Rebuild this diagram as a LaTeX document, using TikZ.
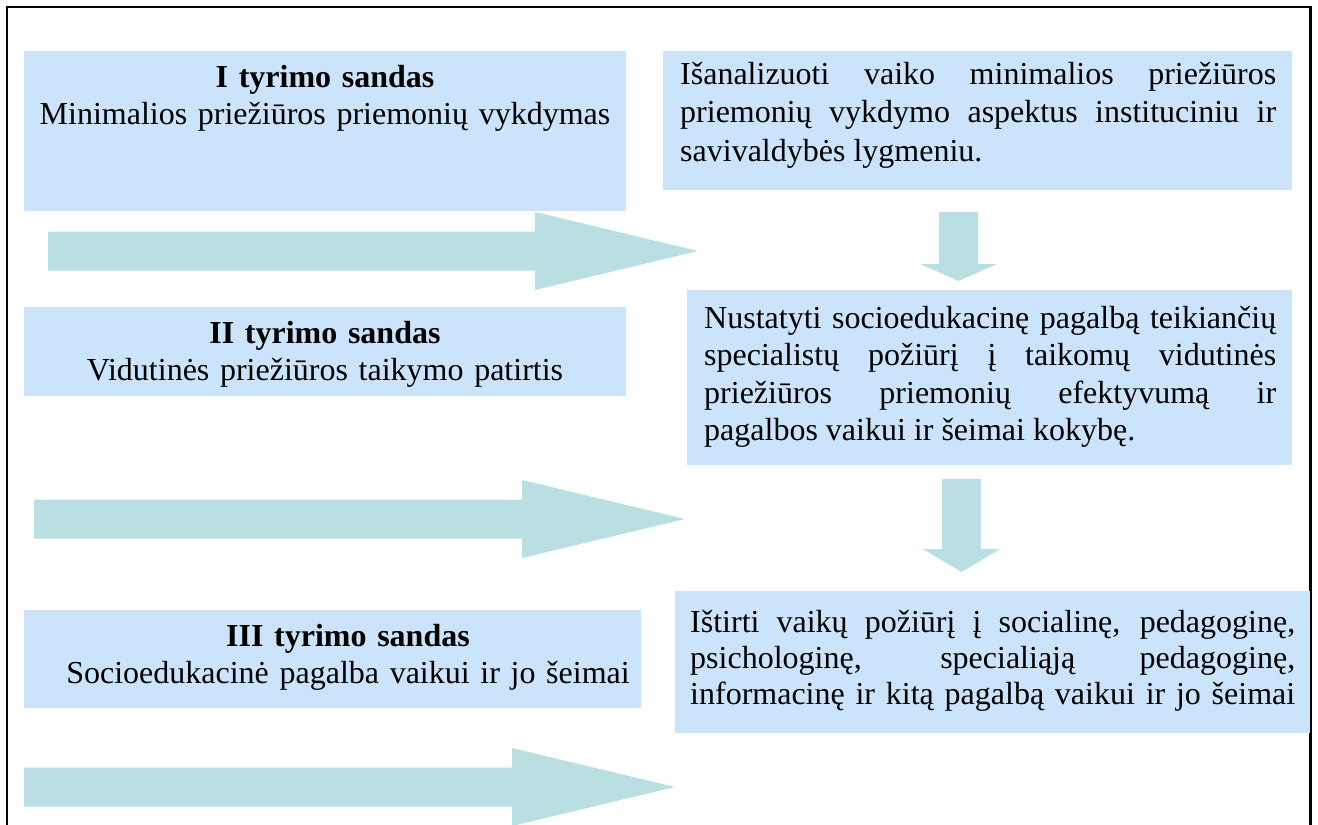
\documentclass[tikz,border=0pt]{standalone}
\usepackage{fontspec}
\setmainfont{Liberation Serif}
\usetikzlibrary{positioning}
\hyphenpenalty=10000
\exhyphenpenalty=10000
\tolerance=9999
\definecolor{boxblue}{RGB}{203,228,252}
\definecolor{arrowcyan}{RGB}{185,223,226}
\tikzset{
  box/.style={fill=boxblue, draw=none, anchor=north west, inner sep=0pt},
  arr/.style={fill=arrowcyan, draw=none},
  txt/.style={inner sep=0pt, font=\fontsize{32}{37.5}\selectfont},
}
\begin{document}
\begin{tikzpicture}[x=1pt,y=-1pt]
  \useasboundingbox (0,0) rectangle (1318,825);
  % frame
  \draw[line width=2.6pt] (7,826) -- (7,7) -- (1310.5,7) -- (1310.5,826);

  % boxes
  \node[box, minimum width=602pt, minimum height=160pt](b1) at (24,51) {};
  \node[box, minimum width=629pt, minimum height=139pt](b2) at (663,51) {};
  \node[box, minimum width=602pt, minimum height=89pt](b3) at (24,307) {};
  \node[box, minimum width=605pt, minimum height=175pt](b4) at (687,290) {};
  \node[box, minimum width=617pt, minimum height=98pt](b5) at (24,610) {};
  \node[box, minimum width=635pt, minimum height=142pt](b6) at (675,591) {};

  % big arrows to the right
  \foreach \xa/\xb/\xc/\yc in {48/535/698/251, 34/522/685/519, 24/512/675/787}
    \fill[arr] (\xa,\yc-19.5) -- (\xb,\yc-19.5) -- (\xb,\yc-39) -- (\xc,\yc)
      -- (\xb,\yc+39) -- (\xb,\yc+19.5) -- (\xa,\yc+19.5) -- cycle;

  % arrows down between the steps
  \foreach \xm/\ya/\yb/\yc in {958.5/212/264/281, 961.5/479/549/572}
    \fill[arr] (\xm-19.5,\ya) -- (\xm+19.5,\ya) -- (\xm+19.5,\yb) -- (\xm+38.5,\yb)
      -- (\xm,\yc) -- (\xm-38.5,\yb) -- (\xm-19.5,\yb) -- cycle;

  % texts
  \node[txt, text width=600pt, align=center, anchor=base](t1) at (325,87)
    {\textbf{I tyrimo sandas}\\Minimalios priežiūros priemonių vykdymas};
  \node[txt, text width=600pt, align=center, anchor=base](t3) at (325,343)
    {\textbf{II tyrimo sandas}\\Vidutinės priežiūros taikymo patirtis};
  \node[txt, text width=600pt, align=center, anchor=base](t5) at (348,646)
    {\textbf{III tyrimo sandas}\\Socioedukacinė pagalba vaikui ir jo šeimai};

  \node[txt, font=\fontsize{32}{38.5}\selectfont, text width=596pt, align=justify,
    anchor=base west](t2) at (680,84)
    {Išanalizuoti vaiko minimalios priežiūros\linebreak
     priemonių vykdymo aspektus instituciniu ir\linebreak
     savivaldybės lygmeniu.};
  \node[txt, text width=572pt, align=justify, anchor=base west](t4) at (704,328)
    {Nustatyti socioedukacinę pagalbą teikiančių\linebreak
     specialistų požiūrį į taikomų vidutinės\linebreak
     priežiūros priemonių efektyvumą ir\linebreak
     pagalbos vaikui ir šeimai kokybę.};
  \node[txt, font=\fontsize{32}{36}\selectfont, text width=605pt, align=justify,
    anchor=base west](t6) at (690,632)
    {Ištirti vaikų požiūrį į socialinę, pedagoginę,\linebreak
     psichologinę, specialiąją pedagoginę,\linebreak
     \makebox[\linewidth][s]{informacinę ir kitą pagalbą vaikui ir jo šeimai}};
\end{tikzpicture}
\end{document}
